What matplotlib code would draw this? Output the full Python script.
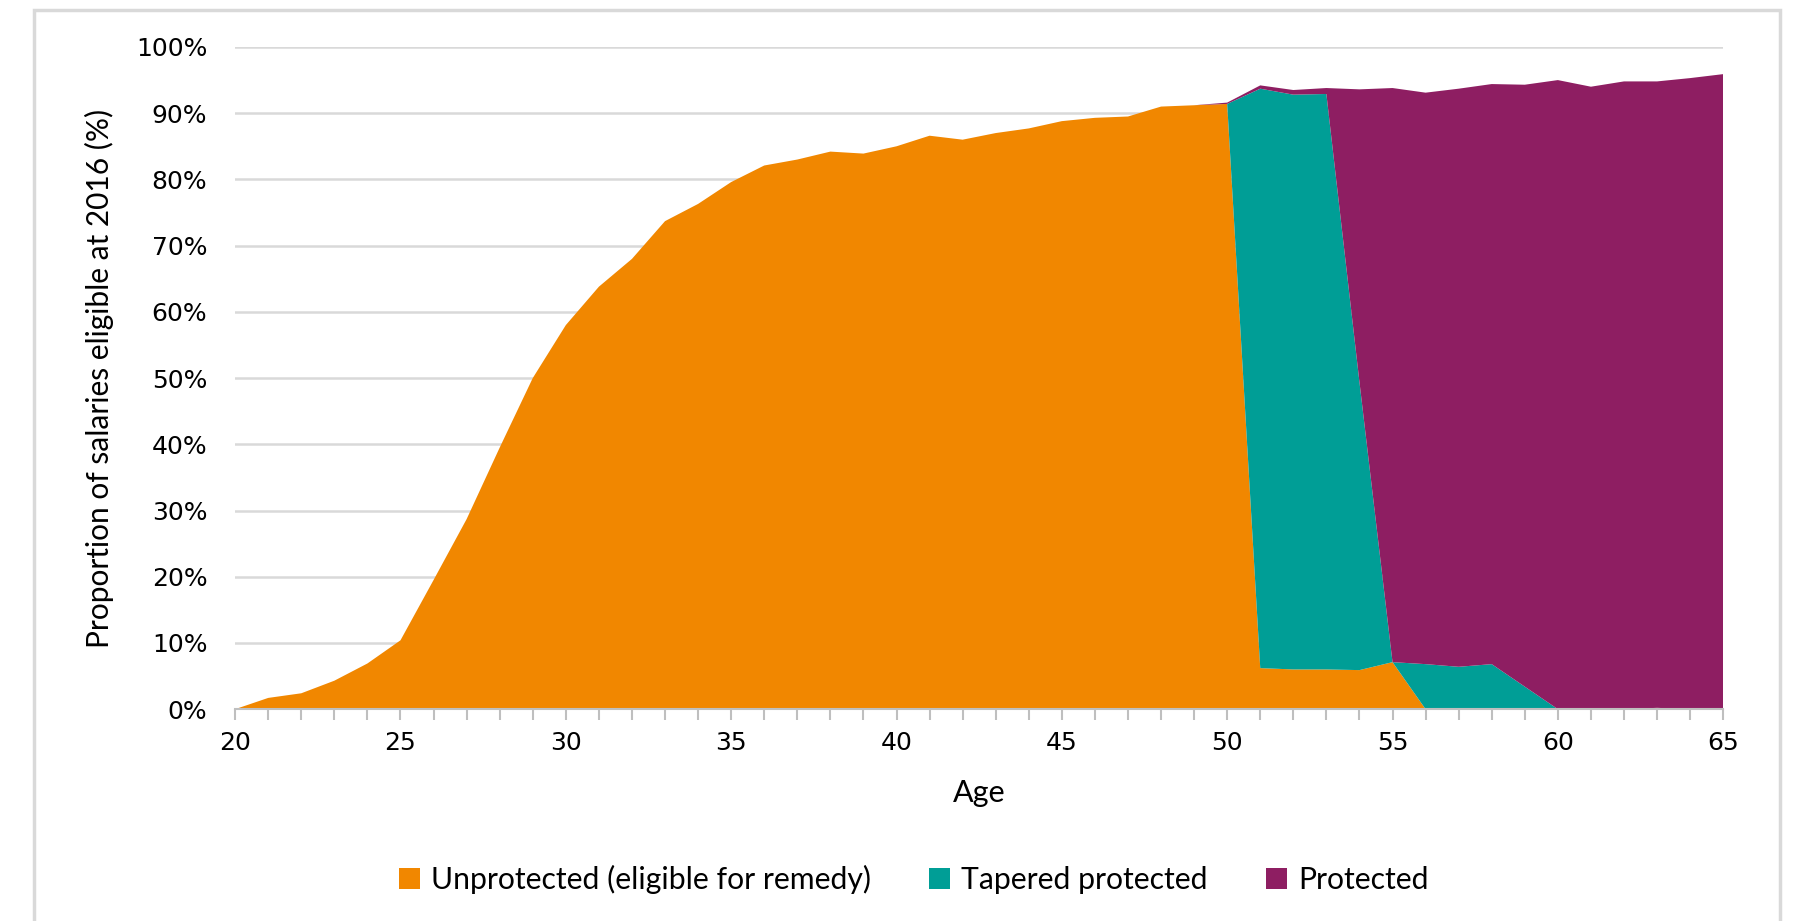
import numpy as np
import matplotlib.pyplot as plt
from matplotlib.patches import Rectangle
from matplotlib.ticker import MultipleLocator, FuncFormatter

ages = list(range(20, 66))

unprotected = [0.0, 1.7, 2.4, 4.3, 6.9, 10.4, 19.5, 28.7, 39.5, 50.0,
               58.0, 63.8, 68.0, 73.7, 76.3, 79.6, 82.1, 83.0, 84.2, 83.9,
               85.0, 86.6, 86.0, 87.0, 87.7, 88.8, 89.3, 89.5, 91.0, 91.2,
               91.4, 6.2, 6.0, 6.0, 5.9, 7.1, 0.0, 0.0, 0.0, 0.0,
               0.0, 0.0, 0.0, 0.2, 0.0, 0.0]

tapered = [0.0] * 31 + [87.5, 86.8, 86.9, 43.5, 0.0, 6.8, 6.4, 6.8, 3.4,
                        0.0, 0.0, 0.0, 0.0, 0.0, 0.0]

protected = [0.0] * 30 + [0.2, 0.5, 0.7, 0.9, 44.2, 86.7, 86.3, 87.3, 87.6, 90.9,
                          95.0, 94.0, 94.8, 94.6, 95.3, 95.9]

labels = ['Unprotected (eligible for remedy)', 'Tapered protected', 'Protected']
colors = ['#F18700', '#009E96', '#8E1E62']

fig = plt.figure(figsize=(17.95, 9.21), dpi=100)
ax = fig.add_axes([0.131, 0.230, 0.829, 0.719])

ax.stackplot(ages, unprotected, tapered, protected, labels=labels,
             colors=colors, linewidth=0)

ax.set_xlim(20, 65)
ax.set_ylim(0, 100)
ax.yaxis.set_major_locator(MultipleLocator(10))
ax.yaxis.set_major_formatter(FuncFormatter(lambda v, p: '%d%%' % v))
ax.xaxis.set_major_locator(MultipleLocator(5))
ax.xaxis.set_minor_locator(MultipleLocator(1))

ax.grid(axis='y', color='#D9D9D9', linewidth=1.8)
ax.set_axisbelow(True)
for s in ['top', 'right', 'left']:
    ax.spines[s].set_visible(False)
ax.spines['bottom'].set_color('#BFBFBF')
ax.spines['bottom'].set_linewidth(1.5)
ax.spines['bottom'].set_zorder(5)

ax.tick_params(axis='y', length=0, pad=20, labelsize=18, labelcolor='#000000')
ax.tick_params(axis='x', which='both', direction='out', color='#BFBFBF',
               width=1.5, length=8, labelsize=18, pad=8)

ax.set_xlabel('Age', fontsize=22, family='Lato', labelpad=17)
ax.set_ylabel('Proportion of salaries eligible at 2016 (%)', fontsize=21.5,
              family='Lato', labelpad=16)

leg = fig.legend(loc='center', bbox_to_anchor=(0.509, 0.045), ncol=3, frameon=False,
                 prop={'family': 'Lato', 'size': 21.7},
                 handlelength=0.7, handleheight=0.7, handletextpad=0.35,
                 columnspacing=1.95)

# light grey outer frame of the chart
fig.patches.append(Rectangle((34 / 1795, -0.05), (1780 - 34) / 1795, 1.05 - 10 / 921,
                             transform=fig.transFigure, fill=False,
                             edgecolor='#D9D9D9', linewidth=2.5))

fig.savefig('out.png', dpi=100)
